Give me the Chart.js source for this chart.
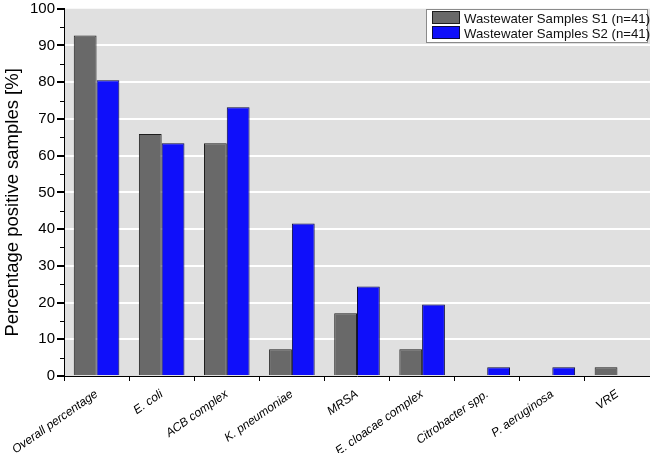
<!DOCTYPE html>
<html>
<head>
<meta charset="utf-8">
<script src="https://cdn.jsdelivr.net/npm/chart.js@4/dist/chart.umd.min.js"></script>
<style>
html,body{margin:0;padding:0;background:#fff;}
#wrap{position:relative;width:650px;height:453px;}
#legend{position:absolute;left:426px;top:9px;width:220px;height:32px;background:#fff;border:1px solid #8a8a8a;font-family:"Liberation Sans",Arial,sans-serif;font-size:13.2px;color:#111;}
#legend .it{position:absolute;left:5px;height:15px;line-height:15px;white-space:nowrap;}
#legend .sw{display:inline-block;width:26px;height:11px;border:1px solid #333;vertical-align:-1px;margin-right:4px;}
</style>
</head>
<body>
<div id="wrap"><canvas id="c" width="650" height="453"></canvas><div id="legend"></div></div>
<script>
const categories = ["Overall percentage","E. coli","ACB complex","K. pneumoniae","MRSA","E. cloacae complex","Citrobacter spp.","P. aeruginosa","VRE"];
const seriesS1 = [92.7, 65.9, 63.4, 7.3, 17.1, 7.3, 0, 0, 2.4];
const seriesS2 = [80.5, 63.4, 73.2, 41.5, 24.4, 19.5, 2.4, 2.4, 0];
const seriesNames = ["Wastewater Samples S1 (n=41)", "Wastewater Samples S2 (n=41)"];
const yTicks = [0,10,20,30,40,50,60,70,80,90,100];
const yAxisTitle = "Percentage positive samples [%]";

const bgPlugin = {
  id:'bg',
  beforeDraw(chart){
    const {ctx, chartArea:a} = chart;
    ctx.save(); ctx.fillStyle = '#e0e0e0';
    ctx.fillRect(a.left, a.top, a.right-a.left, a.bottom-a.top);
    ctx.restore();
  },
  afterDraw(chart){
    const {ctx, chartArea:a} = chart; const y = chart.scales.y;
    ctx.save(); ctx.strokeStyle='#000'; ctx.lineWidth=1;
    for(let v=5; v<100; v+=10){
      const py = Math.round(y.getPixelForValue(v))+0.5;
      ctx.beginPath(); ctx.moveTo(y.right-4, py); ctx.lineTo(y.right, py); ctx.stroke();
    }
    ctx.translate(13, (a.top+a.bottom)/2 + 10);
    ctx.rotate(-Math.PI/2);
    ctx.fillStyle='#000'; ctx.textAlign='center'; ctx.textBaseline='middle';
    ctx.font = '18.5px "Liberation Sans", Arial, sans-serif';
    ctx.fillText(yAxisTitle, 0, 0);
    ctx.restore();
  }
};

const chart = new Chart(document.getElementById('c'), {
  type:'bar',
  data:{
    labels: categories,
    datasets:[
      {label: seriesNames[0], data: seriesS1, backgroundColor:'#696969', borderColor:'#1e1e1e', borderWidth:1, categoryPercentage:0.7, barPercentage:1},
      {label: seriesNames[1], data: seriesS2, backgroundColor:'#0f0ffa', borderColor:'#0a0a40', borderWidth:1, categoryPercentage:0.7, barPercentage:1}
    ]
  },
  options:{
    responsive:false, animation:false,
    layout:{padding:{top:0,right:0,left:0,bottom:0}},
    plugins:{legend:{display:false}, tooltip:{enabled:false}},
    scales:{
      x:{
        grid:{offset:true, display:true, drawOnChartArea:false, drawTicks:true, tickLength:5, tickColor:'#000'},
        border:{display:true, color:'#000', width:1},
        ticks:{autoSkip:false, minRotation:35, maxRotation:35, color:'#000', padding:6,
          font:{family:'"Liberation Sans", Arial, sans-serif', size:12, style:'italic'}},
        afterFit(s){ s.height = 77; }
      },
      y:{
        min:0, max:100,
        afterBuildTicks(s){ s.ticks = yTicks.map(v=>({value:v})); },
        grid:{color:(c)=> (c.tick && c.tick.value>0 && c.tick.value<100) ? '#ffffff' : 'rgba(0,0,0,0)', lineWidth:2, drawTicks:true, tickLength:7, tickColor:'#000'},
        border:{display:true, color:'#000', width:1},
        ticks:{color:'#000', padding:2, font:{family:'"Liberation Sans", Arial, sans-serif', size:15, lineHeight:0.9}},
        title:{display:false, text:yAxisTitle},
        afterFit(s){ s.width = 64; }
      }
    }
  },
  plugins:[bgPlugin]
});

const lg = document.getElementById('legend');
chart.data.datasets.forEach((d,i)=>{
  const it = document.createElement('div'); it.className='it'; it.style.top = (1+i*15)+'px';
  const sw = document.createElement('span'); sw.className='sw'; sw.style.background=d.backgroundColor; sw.style.borderColor=d.borderColor;
  it.appendChild(sw); it.appendChild(document.createTextNode(d.label));
  lg.appendChild(it);
});
</script>
</body>
</html>
